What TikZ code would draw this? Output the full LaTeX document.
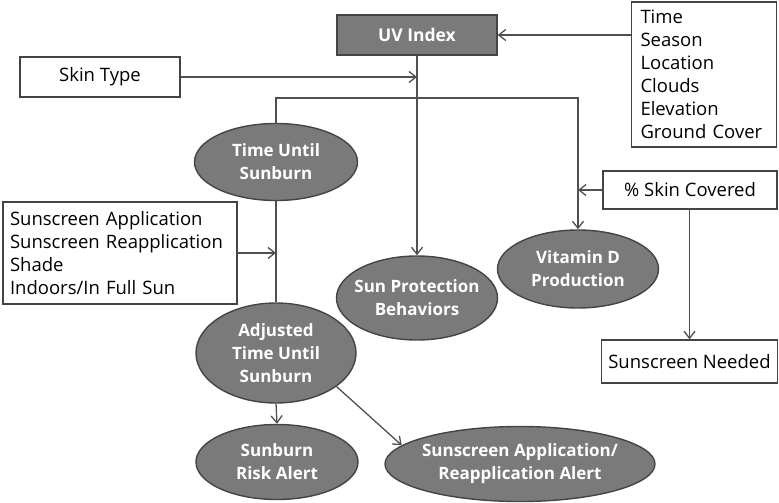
\documentclass[tikz,border=0pt]{standalone}
\usepackage{fontspec}
\setmainfont{Open Sans}
\usetikzlibrary{shapes.geometric, arrows.meta}

\definecolor{ovalfill}{HTML}{7A7A7A}
\definecolor{edgegray}{HTML}{444444}
\definecolor{wiregray}{HTML}{505050}

\begin{document}
\begin{tikzpicture}[x=1pt, y=-1pt,
    textbox/.style={draw=edgegray, line width=1.4pt, fill=white, inner xsep=7pt, inner ysep=0pt,
        font=\fontsize{18.5}{23}\selectfont},
    oval/.style={ellipse, draw=edgegray, line width=1.4pt, fill=ovalfill, text=white, inner sep=-12pt,
        align=center, font=\bfseries\fontsize{17}{23}\selectfont},
    wire/.style={draw=wiregray, line width=1.3pt},
    flow/.style={wire, -{Straight Barb[length=7pt, width=11pt, line width=1.3pt]}}]
    \useasboundingbox (0,0) rectangle (779,503);
    % 紫外线指数
    \node[draw=edgegray, line width=1.4pt, fill=ovalfill, text=white, minimum width=160pt, minimum height=40pt,
        inner sep=0pt, font=\bfseries\fontsize{17.5}{21}\selectfont] (uv) at (417,35) {UV Index};
    \node[textbox, text width=127pt, inner xsep=9pt, minimum height=145pt, align=left] (factors) at (704,74.5)
        {Time\\Season\\Location\\Clouds\\Elevation\\Ground Cover};
    \node[textbox, minimum width=160pt, minimum height=40pt] (skintype) at (100,77) {Skin Type};
    % 椭圆
    \node[oval, minimum width=163pt, minimum height=77pt] (tus) at (276,162) {Time Until\\Sunburn};
    \node[oval, minimum width=161pt, minimum height=84pt] (sunprot) at (417,298) {Sun Protection\\Behaviors};
    \node[oval, minimum width=161pt, minimum height=78pt] (vitd) at (578,269) {Vitamin D\\Production};
    \node[oval, minimum width=160pt, minimum height=100pt] (adjusted) at (276,353) {Adjusted\\Time Until\\Sunburn};
    \node[oval, minimum width=162pt, minimum height=75pt] (riskalert) at (277,462) {Sunburn\\Risk Alert};
    \node[oval, minimum width=270pt, minimum height=75pt] (appalert) at (520,464)
        {Sunscreen Application/\\Reapplication Alert};
    % 其他方框
    \node[textbox, text width=220pt, minimum height=102pt, align=left] (modifiers) at (120,253)
        {Sunscreen Application\\Sunscreen Reapplication\\Shade\\Indoors/In Full Sun};
    \node[textbox, minimum width=174pt, minimum height=38pt] (covered) at (690,190) {\% Skin Covered};
    \node[textbox, minimum width=175pt, minimum height=43pt] (needed) at (689.5,361.5) {Sunscreen Needed};
    % 连线
    \coordinate (split) at (417,98);
    \draw[flow] (uv.east -| factors.west) -- (uv.east);
    \draw[flow] (skintype.east) -- (skintype.east -| uv.south);
    \draw[flow] (uv.south) -- (sunprot.north);
    \draw[flow] (tus.north) |- (split) -| (vitd.north);
    \draw[wire] (tus.south) -- (adjusted.north);
    \draw[flow] (modifiers.east) -- (modifiers.east -| tus.south);
    \draw[flow] (covered.west) -- (covered.west -| vitd.north);
    \draw[flow] (covered.south -| needed.north) -- (needed.north);
    \draw[flow] (adjusted.south) -- (riskalert.north);
    \draw[flow] (adjusted.-29) -- (appalert.171);
\end{tikzpicture}
\end{document}
